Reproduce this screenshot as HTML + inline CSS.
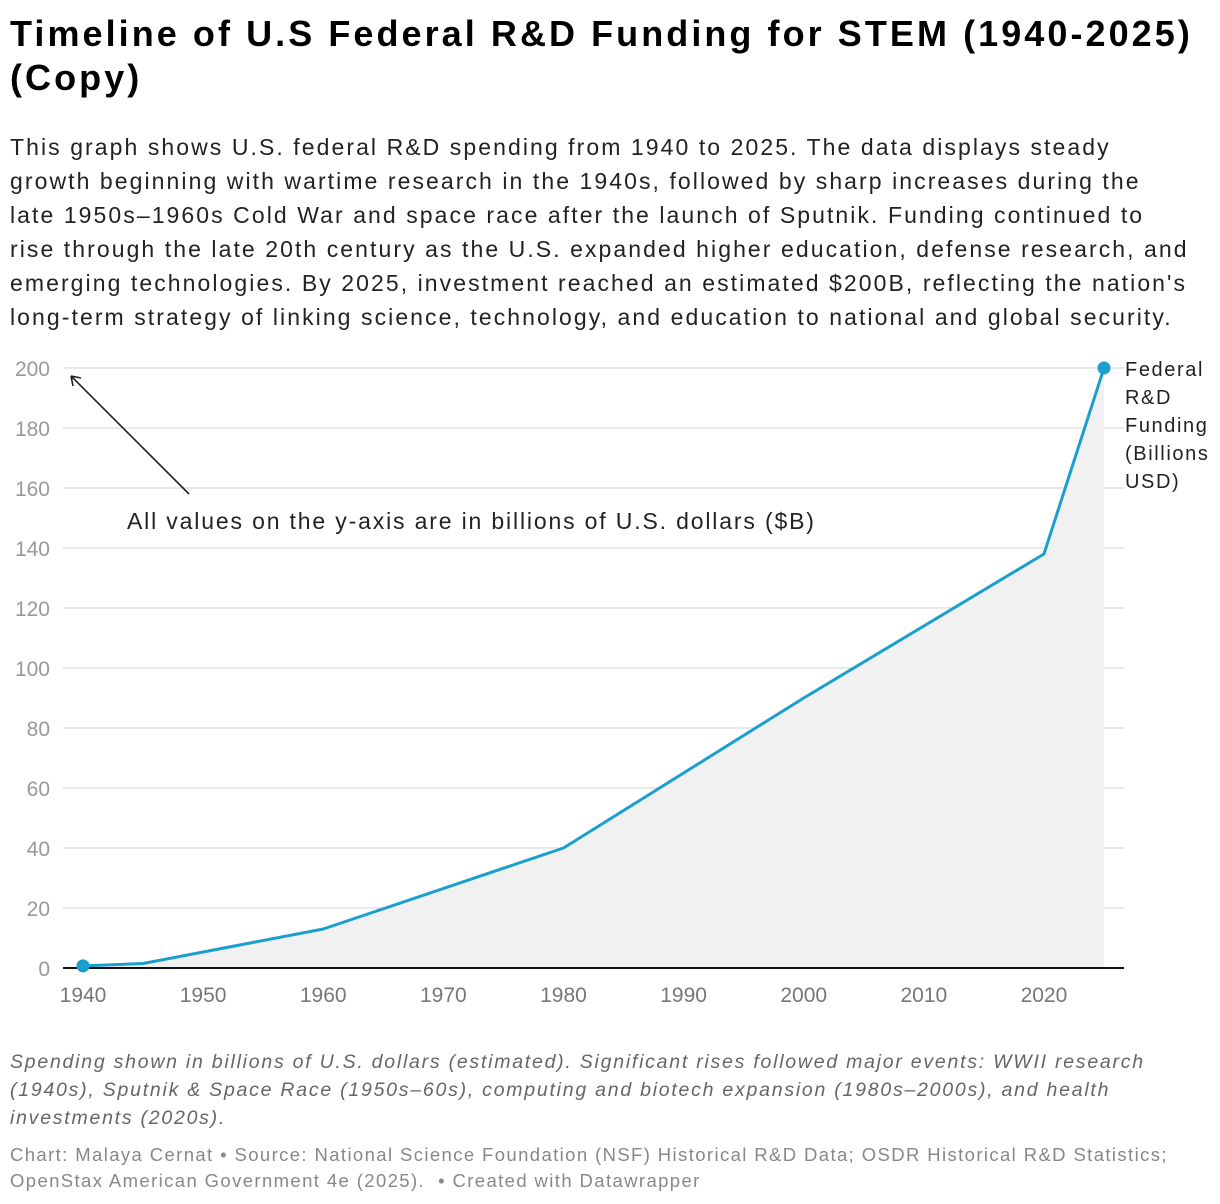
<!DOCTYPE html>
<html><head><meta charset="utf-8"><style>
body{margin:0;background:#fff;font-family:"Liberation Sans",sans-serif;width:1220px;height:1204px;overflow:hidden;position:relative}
h1{position:absolute;left:10px;top:12px;margin:0;font-size:36px;line-height:44px;font-weight:bold;color:#000;white-space:nowrap;letter-spacing:0.085em}
.desc{position:absolute;left:10px;top:130px;font-size:23px;line-height:34px;color:#222;margin:0;white-space:nowrap;letter-spacing:0.09em}
.note{position:absolute;left:10px;top:1048px;font-size:19.5px;line-height:28px;font-style:italic;color:#666;margin:0;white-space:nowrap;letter-spacing:0.09em}
.src{position:absolute;left:10px;top:1142px;font-size:18.5px;line-height:26px;color:#888;margin:0;white-space:nowrap;letter-spacing:0.075em}
</style></head><body>
<h1>Timeline of U.S Federal R&amp;D Funding for STEM (1940-2025)<br>(Copy)</h1>
<p class="desc">This graph shows U.S. federal R&amp;D spending from 1940 to 2025. The data displays steady<br>growth beginning with wartime research in the 1940s, followed by sharp increases during the<br>late 1950s–1960s Cold War and space race after the launch of Sputnik. Funding continued to<br>rise through the late 20th century as the U.S. expanded higher education, defense research, and<br>emerging technologies. By 2025, investment reached an estimated $200B, reflecting the nation's<br>long-term strategy of linking science, technology, and education to national and global security.</p>
<svg id="chart" width="1220" height="1204" style="position:absolute;left:0;top:0" font-family="Liberation Sans, sans-serif"></svg>
<p class="note">Spending shown in billions of U.S. dollars (estimated). Significant rises followed major events: WWII research<br>(1940s), Sputnik &amp; Space Race (1950s–60s), computing and biotech expansion (1980s–2000s), and health<br>investments (2020s).</p>
<p class="src">Chart: Malaya Cernat • Source: National Science Foundation (NSF) Historical R&amp;D Data; OSDR Historical R&amp;D Statistics;<br>OpenStax American Government 4e (2025). &nbsp;• Created with Datawrapper</p>
<script>
const years=[1940,1945,1960,1980,2000,2020,2025];
const values=[0.7,1.5,13,40,90,138,200];
const yTicks=[0,20,40,60,80,100,120,140,160,180,200];
const xTicks=[1940,1950,1960,1970,1980,1990,2000,2010,2020];
const NS="http://www.w3.org/2000/svg";
const svg=document.getElementById('chart');
const x=v=>83+(v-1940)*(1104-83)/85;
const y=v=>968-v*3;
function mk(t,a,p){const e=document.createElementNS(NS,t);for(const k in a)e.setAttribute(k,a[k]);(p||svg).appendChild(e);return e;}
yTicks.forEach(t=>{
 if(t>0){const g=mk('line',{x1:63,x2:1124,y1:y(t),y2:y(t),stroke:'#e2e2e2','stroke-width':1.5});
 
 }
 const l=mk('text',{x:50,y:y(t)+8,'text-anchor':'end','font-size':21,fill:'#999'});l.textContent=t;
 
 
});
xTicks.forEach(t=>{
 const l=mk('text',{x:x(t),y:1002,'text-anchor':'middle','font-size':21,fill:'#777'});l.textContent=t;
 
 
});
const pts=years.map((d,i)=>x(d)+','+y(values[i])).join(' ');
const area=mk('polygon',{points:pts+' '+x(years[years.length-1])+','+y(0)+' '+x(years[0])+','+y(0),fill:'#f1f1f1'});


const base=mk('line',{x1:63,x2:1124,y1:y(0),y2:y(0),stroke:'#111','stroke-width':2});


const line=mk('polyline',{points:pts,fill:'none',stroke:'#1a9fce','stroke-width':3,'stroke-linejoin':'round'});


[0,years.length-1].forEach(i=>{
 const c=mk('circle',{cx:x(years[i]),cy:y(values[i]),r:6.5,fill:'#1a9fce'});
 
 
});
const lab=mk('text',{x:1125,'font-size':20,fill:'#222','letter-spacing':'0.08em'});


['Federal','R&D','Funding','(Billions','USD)'].forEach((s,i)=>{const ts=mk('tspan',{x:1125,y:376+i*28},lab);ts.textContent=s;});
const arr=mk('path',{d:'M189,494 L71,376 M71,376 l10,2 M71,376 l2,10',stroke:'#222','stroke-width':1.6,fill:'none'});


const an=mk('text',{x:127,y:529,'font-size':23,fill:'#222','letter-spacing':'0.08em'});an.textContent='All values on the y-axis are in billions of U.S. dollars ($B)';


</script>
</body></html>
